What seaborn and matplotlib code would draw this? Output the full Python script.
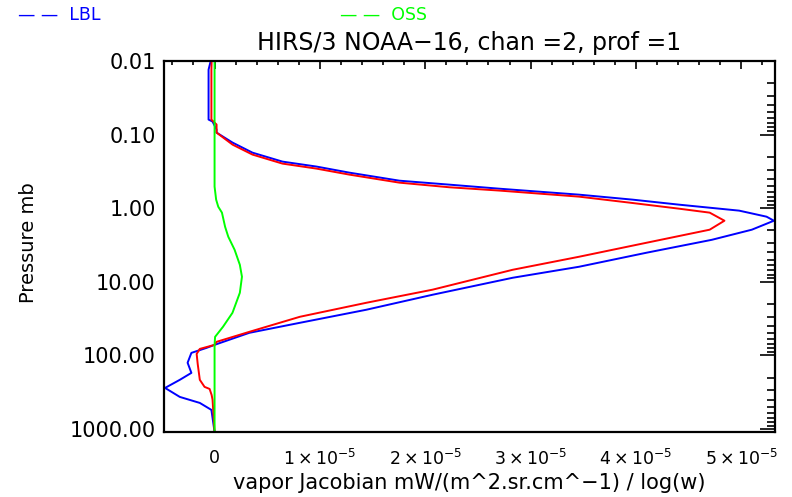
import numpy as np
import pandas as pd
import matplotlib
matplotlib.use("Agg")
import matplotlib.pyplot as plt
import matplotlib.ticker as mticker
import seaborn as sns

# ---------------- data ----------------
# LBL (blue): pressure [mb] and Jacobian [units of 1e-5]
lbl_p = [0.0102, 0.0131, 0.0625, 0.0666, 0.0855, 0.094, 0.1285, 0.176, 0.233,
         0.272, 0.329, 0.423, 0.479, 0.543, 0.655, 0.766, 0.896, 1.08, 1.305,
         1.48, 1.96, 2.69, 4.03, 6.25, 8.82, 15.0, 24.0, 36.1, 49.4,
         72.0, 79.1, 92.5, 126, 173, 215, 277, 367, 443, 551, 1100]
lbl_j = [-0.038, -0.057, -0.057, -0.019, 0.019, 0.019, 0.171, 0.36, 0.645,
         0.968, 1.28, 1.755, 2.23, 2.70, 3.46, 3.97, 4.41, 4.98, 5.24,
         5.31, 5.10, 4.72, 4.10, 3.46, 2.83, 2.07, 1.44, 0.81, 0.33,
         0.0, -0.076, -0.22, -0.256, -0.22, -0.33, -0.47, -0.33, -0.14, -0.03, 0.0]

# second (red) curve
red_p = [0.0102, 0.0131, 0.0625, 0.0666, 0.073, 0.094, 0.137, 0.187, 0.248,
         0.29, 0.35, 0.45, 0.52, 0.576, 0.697, 0.841, 1.016, 1.15, 1.48,
         1.96, 2.95, 4.57, 6.87, 12.8, 19.3, 29.9, 47.9, 65.5, 72.0,
         81.7, 95.5, 131, 215, 268, 286, 345, 402, 1100]
red_j = [-0.028, -0.03, -0.03, -0.01, 0.019, 0.019, 0.171, 0.36, 0.645,
         0.968, 1.28, 1.755, 2.23, 2.70, 3.46, 3.94, 4.41, 4.70, 4.84,
         4.70, 4.10, 3.46, 2.83, 2.07, 1.44, 0.81, 0.33, 0.019, 0.0,
         -0.14, -0.17, -0.16, -0.14, -0.095, -0.047, -0.028, -0.019, 0.0]

# OSS (green)
oss_p = [0.01, 0.509, 0.766, 0.955, 1.15, 1.79, 2.44, 3.67, 5.88, 8.55,
         14.1, 26.4, 40.9, 56.0, 72.0, 1100]
oss_j = [0.0, 0.0, 0.015, 0.035, 0.07, 0.10, 0.13, 0.19, 0.24, 0.26,
         0.24, 0.17, 0.08, 0.005, 0.0, 0.0]

x_ticks = [0, 1, 2, 3, 4, 5]
x_tick_labels = ["0", r"$1\times10^{-5}$", r"$2\times10^{-5}$", r"$3\times10^{-5}$",
                 r"$4\times10^{-5}$", r"$5\times10^{-5}$"]
y_ticks = [0.01, 0.1, 1, 10, 100, 1000]
y_tick_labels = ["0.01", "0.10", "1.00", "10.00", "100.00", "1000.00"]

title = "HIRS/3 NOAA\u221216, chan =2, prof =1"
xlabel = "vapor Jacobian mW/(m^2.sr.cm^\u22121) / log(w)"
ylabel = "Pressure mb"

SCALE = 1e-5

# ---------------- plotting ----------------
sns.set_style("white")
plt.rcParams['font.family'] = ['DejaVu Sans']
for k in ("text.color", "axes.labelcolor", "xtick.color", "ytick.color"):
    plt.rcParams[k] = "black"

fig = plt.figure(figsize=(7.92, 4.97), dpi=100)
ax = fig.add_axes([164 / 792, 1 - 432 / 497, (775 - 164) / 792, (432 - 61) / 497])

series = [
    (lbl_p, lbl_j, (0, 0, 1)),
    (red_p, red_j, (1, 0, 0)),
    (oss_p, oss_j, (0, 1, 0)),
]
for p, j, col in series:
    df = pd.DataFrame({"p": p, "j": np.array(j) * SCALE})
    sns.lineplot(data=df, x="j", y="p", sort=False, estimator=None,
                 color=col, lw=1.4, ax=ax)

ax.set_yscale("log")
ax.set_ylim(1100, 0.01)
ax.set_xlim(-0.48 * SCALE, 5.32 * SCALE)

ax.xaxis.set_major_locator(mticker.FixedLocator([t * SCALE for t in x_ticks]))
ax.xaxis.set_major_formatter(mticker.FixedFormatter(x_tick_labels))
ax.xaxis.set_minor_locator(mticker.AutoMinorLocator(5))
ax.yaxis.set_major_locator(mticker.FixedLocator(y_ticks))
ax.yaxis.set_major_formatter(mticker.FixedFormatter(y_tick_labels))
ax.yaxis.set_minor_locator(mticker.LogLocator(base=10, subs=np.arange(2, 10)))
ax.yaxis.set_minor_formatter(mticker.NullFormatter())

ax.tick_params(axis="both", which="both", direction="in", top=True, right=True,
               color="black", width=1.2)
ax.tick_params(axis="x", which="major", length=6, pad=12, labelsize=12.5)
ax.tick_params(axis="x", which="minor", length=3)
ax.tick_params(axis="y", which="major", length=11, pad=6, labelsize=15)
ax.tick_params(axis="y", which="minor", length=6)

for s in ax.spines.values():
    s.set_visible(True)
    s.set_color("black")
    s.set_linewidth(1.6)

ax.set_xlabel(xlabel, fontsize=15, labelpad=3)
ax.set_ylabel(ylabel, fontsize=14)
ax.yaxis.set_label_coords((28 - 164) / 611, 0.51)
ax.yaxis.label.set_va("center")
ax.set_title(title, fontsize=17, pad=8)

fig.text(18 / 792, 1 - 15 / 497, "\u2014 \u2014  LBL", color=(0, 0, 1),
         fontsize=12.5, va="center", ha="left")
fig.text(340 / 792, 1 - 15 / 497, "\u2014 \u2014  OSS", color=(0, 1, 0),
         fontsize=12.5, va="center", ha="left")

fig.savefig("out.png", dpi=100, facecolor="white")
